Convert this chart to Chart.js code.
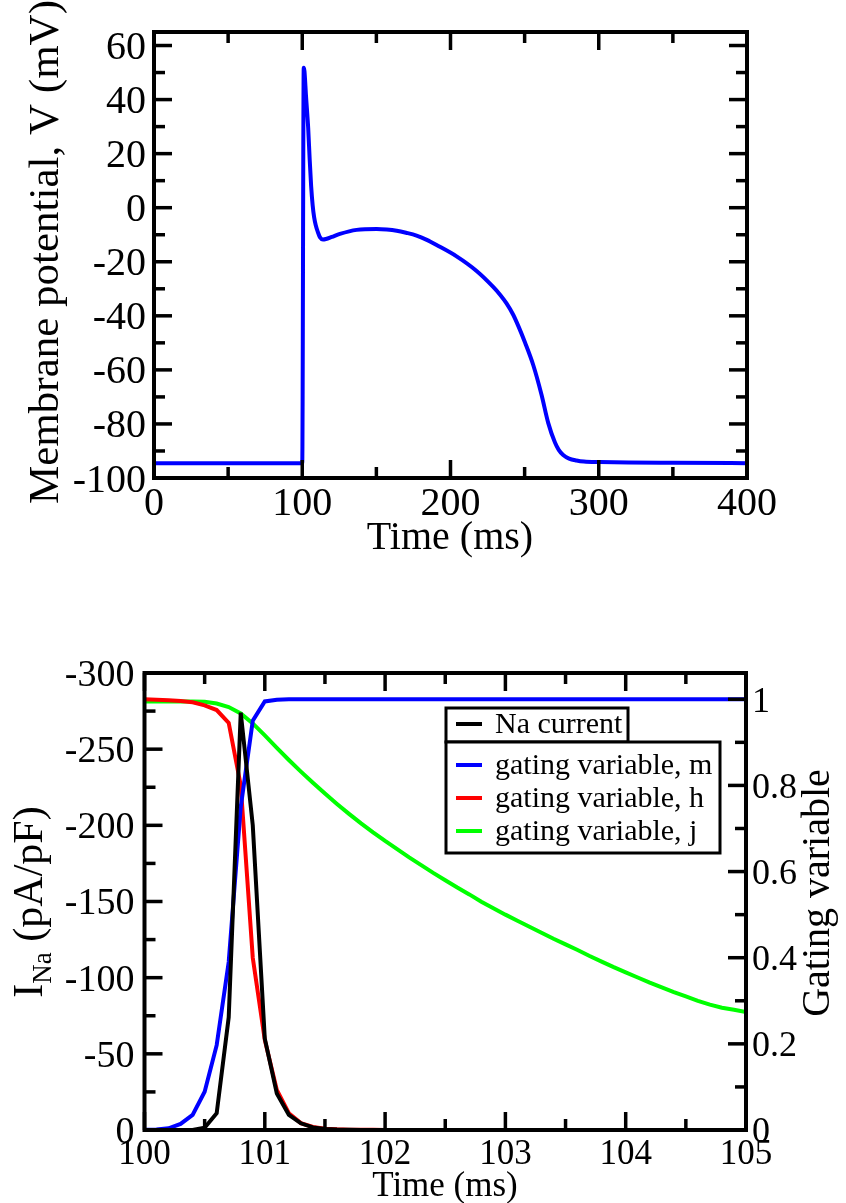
<!DOCTYPE html>
<html>
<head>
<meta charset="utf-8">
<script src="https://cdn.jsdelivr.net/npm/chart.js@4.4.1/dist/chart.umd.min.js"></script>
<style>
  html, body { margin: 0; padding: 0; background: #fff; }
  body { width: 846px; height: 1203px; position: relative; overflow: hidden; }
  canvas { position: absolute; left: 0; }
  #apChart { top: 0; }
  #inaChart { top: 600px; }
</style>
</head>
<body>
<canvas id="apChart" width="846" height="600"></canvas>
<canvas id="inaChart" width="846" height="603"></canvas>
<script>
// ---- action potential (top panel) ----
const apTime = [0, 50, 99, 100, 101, 101.5, 102.5, 104, 105, 106, 107, 108, 109.2, 110.5, 112, 114, 116, 120, 125.4, 136.7,
  150.2, 157, 163.7, 170, 177.1, 184, 190.6, 204.1, 217.6, 228.8, 233.3, 237.8, 242.3, 246, 250.2, 255.8, 261.4, 265.9, 270.4, 273,
  276, 280, 285, 290, 300.7, 320, 350, 400];
const apVoltage = [-94.5, -94.5, -94.5, -94.5, 51.8, 50.5, 41.6, 29.5, 18, 8, 1, -3.5, -6.7, -9, -11, -11.8, -11.6, -10.8, -9.7, -8.2,
  -7.85, -8.05, -8.5, -9.25, -10.3, -11.9, -13.8, -18.0, -23.4, -29.3, -32.1, -35.4, -39.6, -44.1, -49.8, -58.2, -69.2, -79.6, -86.8, -89.6,
  -91.5, -92.8, -93.5, -93.9, -94.1, -94.3, -94.4, -94.5];

// ---- sodium current and gating variables (bottom panel) ----
const timeMs = [100.0, 100.1, 100.2, 100.3, 100.4, 100.5, 100.6, 100.7, 100.8, 100.9,
  101.0, 101.1, 101.2, 101.3, 101.4, 101.5, 101.6, 101.7, 101.8, 101.9,
  102.0, 102.1, 102.2, 102.3, 102.4, 102.5, 102.6, 102.7, 102.8, 102.9,
  103.0, 103.1, 103.2, 103.3, 103.4, 103.5, 103.6, 103.7, 103.8, 103.9,
  104.0, 104.1, 104.2, 104.3, 104.4, 104.5, 104.6, 104.7, 104.8, 104.9, 105.0];
const naCurrent = [0, 0, 0, 0, 0, -1.5, -11, -74, -274, -200,
  -60, -24, -10, -4.4, -1.7, -0.7, -0.3, -0.1, 0, 0,
  0, 0, 0, 0, 0, 0, 0, 0, 0, 0,
  0, 0, 0, 0, 0, 0, 0, 0, 0, 0,
  0, 0, 0, 0, 0, 0, 0, 0, 0, 0, 0];
const gateM = [0.0005, 0.001, 0.004, 0.014, 0.035, 0.089, 0.197, 0.39, 0.75, 0.95,
  0.995, 0.999, 1, 1, 1, 1, 1, 1, 1, 1,
  1, 1, 1, 1, 1, 1, 1, 1, 1, 1,
  1, 1, 1, 1, 1, 1, 1, 1, 1, 1,
  1, 1, 1, 1, 1, 1, 1, 1, 1, 1, 1];
const gateH = [1.0, 0.999, 0.998, 0.996, 0.993, 0.986, 0.975, 0.945, 0.80, 0.40,
  0.209, 0.093, 0.039, 0.016, 0.007, 0.003, 0.0015, 0.0008, 0.0005, 0.0003,
  0, 0, 0, 0, 0, 0, 0, 0, 0, 0,
  0, 0, 0, 0, 0, 0, 0, 0, 0, 0,
  0, 0, 0, 0, 0, 0, 0, 0, 0, 0, 0];
const gateJ = [0.995, 0.995, 0.995, 0.995, 0.995, 0.994, 0.990, 0.982, 0.967, 0.944,
  0.916, 0.887, 0.859, 0.832, 0.806, 0.781, 0.757, 0.734, 0.712, 0.691,
  0.671, 0.652, 0.633, 0.615, 0.597, 0.580, 0.563, 0.547, 0.530, 0.515,
  0.500, 0.486, 0.472, 0.458, 0.444, 0.431, 0.418, 0.404, 0.391, 0.378,
  0.366, 0.354, 0.342, 0.331, 0.320, 0.310, 0.300, 0.291, 0.284, 0.279, 0.274];
const seriesNames = ['Na current', 'gating variable, m', 'gating variable, h', 'gating variable, j'];
const seriesColors = ['#000000', '#0000ff', '#ff0000', '#00ff00'];

const SERIF = '"Liberation Serif", "Times New Roman", serif';

function points(xs, ys) {
  return xs.map((x, i) => ({ x: x, y: ys[i] }));
}

// heavy frame with inward ticks on all sides (grace style)
const framePlugin = {
  id: 'frame',
  afterDatasetsDraw(chart, args, opts) {
    const ctx = chart.ctx, a = chart.chartArea;
    ctx.save();
    ctx.strokeStyle = '#000';
    ctx.lineWidth = 3.5;
    opts.ticks.forEach(t => {
      const s = chart.scales[t.scale];
      const lo = Math.ceil(s.min / t.minor - 1e-6), hi = Math.floor(s.max / t.minor + 1e-6);
      for (let k = lo; k <= hi; k++) {
        const p = s.getPixelForValue(k * t.minor);
        const len = k % t.every === 0 ? 18 : 11;
        t.sides.forEach(side => {
          ctx.beginPath();
          if (side === 'bottom') { ctx.moveTo(p, a.bottom); ctx.lineTo(p, a.bottom - len); }
          if (side === 'top') { ctx.moveTo(p, a.top); ctx.lineTo(p, a.top + len); }
          if (side === 'left') { ctx.moveTo(a.left, p); ctx.lineTo(a.left + len, p); }
          if (side === 'right') { ctx.moveTo(a.right, p); ctx.lineTo(a.right - len, p); }
          ctx.stroke();
        });
      }
    });
    ctx.lineWidth = 4;
    ctx.strokeRect(a.left, a.top, a.right - a.left, a.bottom - a.top);
    ctx.restore();
  }
};

// axis titles, drawn by hand so the right one reads bottom-to-top and I_Na gets a subscript
const titlePlugin = {
  id: 'titles',
  afterDraw(chart, args, opts) {
    const ctx = chart.ctx;
    ctx.save();
    ctx.fillStyle = '#000';
    opts.items.forEach(it => {
      ctx.save();
      ctx.translate(it.x, it.y);
      if (it.rot) ctx.rotate(it.rot);
      if (it.parts) {
        ctx.textBaseline = 'alphabetic';
        ctx.textAlign = 'left';
        let total = 0;
        it.parts.forEach(p => { ctx.font = p.size + 'px ' + SERIF; total += ctx.measureText(p.text).width; });
        let x = -total / 2;
        it.parts.forEach(p => {
          ctx.font = p.size + 'px ' + SERIF;
          ctx.fillText(p.text, x, p.dy || 0);
          x += ctx.measureText(p.text).width;
        });
      } else {
        ctx.font = it.size + 'px ' + SERIF;
        ctx.textAlign = 'center';
        ctx.textBaseline = 'middle';
        ctx.fillText(it.text, 0, 0);
      }
      ctx.restore();
    });
    ctx.restore();
  }
};

// two framed legend boxes: current on its own, gating variables together
const boxLegend = {
  id: 'boxLegend',
  afterDraw(chart, args, opts) {
    const ctx = chart.ctx;
    const ds = chart.data.datasets;
    ctx.save();
    opts.boxes.forEach(b => {
      ctx.fillStyle = '#fff';
      ctx.fillRect(b.x, b.y, b.w, b.h);
      ctx.lineWidth = 3;
      ctx.strokeStyle = '#000';
      ctx.strokeRect(b.x, b.y, b.w, b.h);
      b.rows.forEach((idx, r) => {
        const y = b.firstRow + r * opts.rowGap;
        ctx.strokeStyle = ds[idx].borderColor;
        ctx.lineWidth = 4;
        ctx.beginPath();
        ctx.moveTo(b.x + 10, y);
        ctx.lineTo(b.x + 36, y);
        ctx.stroke();
        ctx.fillStyle = '#000';
        ctx.font = opts.fontSize + 'px ' + SERIF;
        ctx.textAlign = 'left';
        ctx.textBaseline = 'middle';
        ctx.fillText(ds[idx].label, b.x + 49, y + 1);
      });
    });
    ctx.restore();
  }
};

const tickFont = size => ({ family: SERIF, size: size });

new Chart(document.getElementById('apChart'), {
  type: 'line',
  data: {
    datasets: [{
      data: points(apTime, apVoltage),
      borderColor: '#0000ff',
      borderWidth: 4,
      pointRadius: 0,
      cubicInterpolationMode: 'monotone'
    }]
  },
  options: {
    responsive: false,
    animation: false,
    devicePixelRatio: 1,
    layout: { padding: { top: 22, right: 99, left: 0, bottom: 0 } },
    scales: {
      x: {
        type: 'linear', min: 0, max: 400,
        grid: { display: false, drawTicks: false }, border: { display: false },
        ticks: { stepSize: 100, color: '#000', font: tickFont(40), padding: 2, maxRotation: 0 },
        afterFit: s => { s.height = 122; }
      },
      y: {
        type: 'linear', min: -100, max: 65,
        grid: { display: false, drawTicks: false }, border: { display: false },
        ticks: { stepSize: 20, includeBounds: false, color: '#000', font: tickFont(40), padding: 8, labelOffset: 3 },
        afterFit: s => { s.width = 154; }
      }
    },
    plugins: {
      legend: { display: false },
      tooltip: { enabled: false },
      frame: {
        ticks: [
          { scale: 'x', minor: 50, every: 2, sides: ['bottom', 'top'] },
          { scale: 'y', minor: 10, every: 2, sides: ['left', 'right'] }
        ]
      },
      titles: {
        items: [
          { text: 'Time (ms)', x: 450, y: 538, size: 40 },
          { text: 'Membrane potential, V (mV)', x: 47, y: 252, size: 43, rot: -Math.PI / 2 }
        ]
      }
    }
  },
  plugins: [framePlugin, titlePlugin]
});

new Chart(document.getElementById('inaChart'), {
  type: 'line',
  data: {
    datasets: [
      { label: seriesNames[0], data: points(timeMs, naCurrent), yAxisID: 'y', borderColor: seriesColors[0] },
      { label: seriesNames[1], data: points(timeMs, gateM), yAxisID: 'y1', borderColor: seriesColors[1] },
      { label: seriesNames[2], data: points(timeMs, gateH), yAxisID: 'y1', borderColor: seriesColors[2] },
      { label: seriesNames[3], data: points(timeMs, gateJ), yAxisID: 'y1', borderColor: seriesColors[3] }
    ].map(d => Object.assign(d, { borderWidth: 4, pointRadius: 0, tension: 0 }))
  },
  options: {
    responsive: false,
    animation: false,
    devicePixelRatio: 1,
    layout: { padding: { top: 73, right: 0, left: 0, bottom: 0 } },
    scales: {
      x: {
        type: 'linear', min: 100, max: 105,
        grid: { display: false, drawTicks: false }, border: { display: false },
        ticks: { stepSize: 1, color: '#000', font: tickFont(35), padding: 4, maxRotation: 0 },
        afterFit: s => { s.height = 73; }
      },
      y: {
        type: 'linear', position: 'left', min: -300, max: 0, reverse: true,
        grid: { display: false, drawTicks: false }, border: { display: false },
        ticks: { stepSize: 50, color: '#000', font: tickFont(38), padding: 10, labelOffset: 3 },
        afterFit: s => { s.width = 144.5; }
      },
      y1: {
        type: 'linear', position: 'right', min: 0, max: 1.061,
        grid: { display: false, drawTicks: false }, border: { display: false },
        ticks: {
          stepSize: 0.2, includeBounds: false, color: '#000', font: tickFont(36), padding: 6, labelOffset: 3,
          callback: v => String(+v.toFixed(1))
        },
        afterFit: s => { s.width = 100; }
      }
    },
    plugins: {
      legend: { display: false },
      tooltip: { enabled: false },
      frame: {
        ticks: [
          { scale: 'x', minor: 0.5, every: 2, sides: ['bottom', 'top'] },
          { scale: 'y', minor: 25, every: 2, sides: ['left'] },
          { scale: 'y1', minor: 0.1, every: 2, sides: ['right'] }
        ]
      },
      titles: {
        items: [
          { text: 'Time (ms)', x: 445, y: 587, size: 35 },
          { text: 'Gating variable', x: 818, y: 293, size: 40, rot: -Math.PI / 2 },
          {
            x: 42, y: 302, rot: -Math.PI / 2,
            parts: [
              { text: 'I', size: 42 },
              { text: 'Na', size: 27, dy: 9 },
              { text: ' (pA/pF)', size: 42 }
            ]
          }
        ]
      },
      boxLegend: {
        fontSize: 30,
        rowGap: 33,
        boxes: [
          { x: 446, y: 108, w: 182, h: 34, firstRow: 124, rows: [0] },
          { x: 446, y: 142, w: 274, h: 111, firstRow: 165, rows: [1, 2, 3] }
        ]
      }
    }
  },
  plugins: [framePlugin, titlePlugin, boxLegend]
});
</script>
</body>
</html>
